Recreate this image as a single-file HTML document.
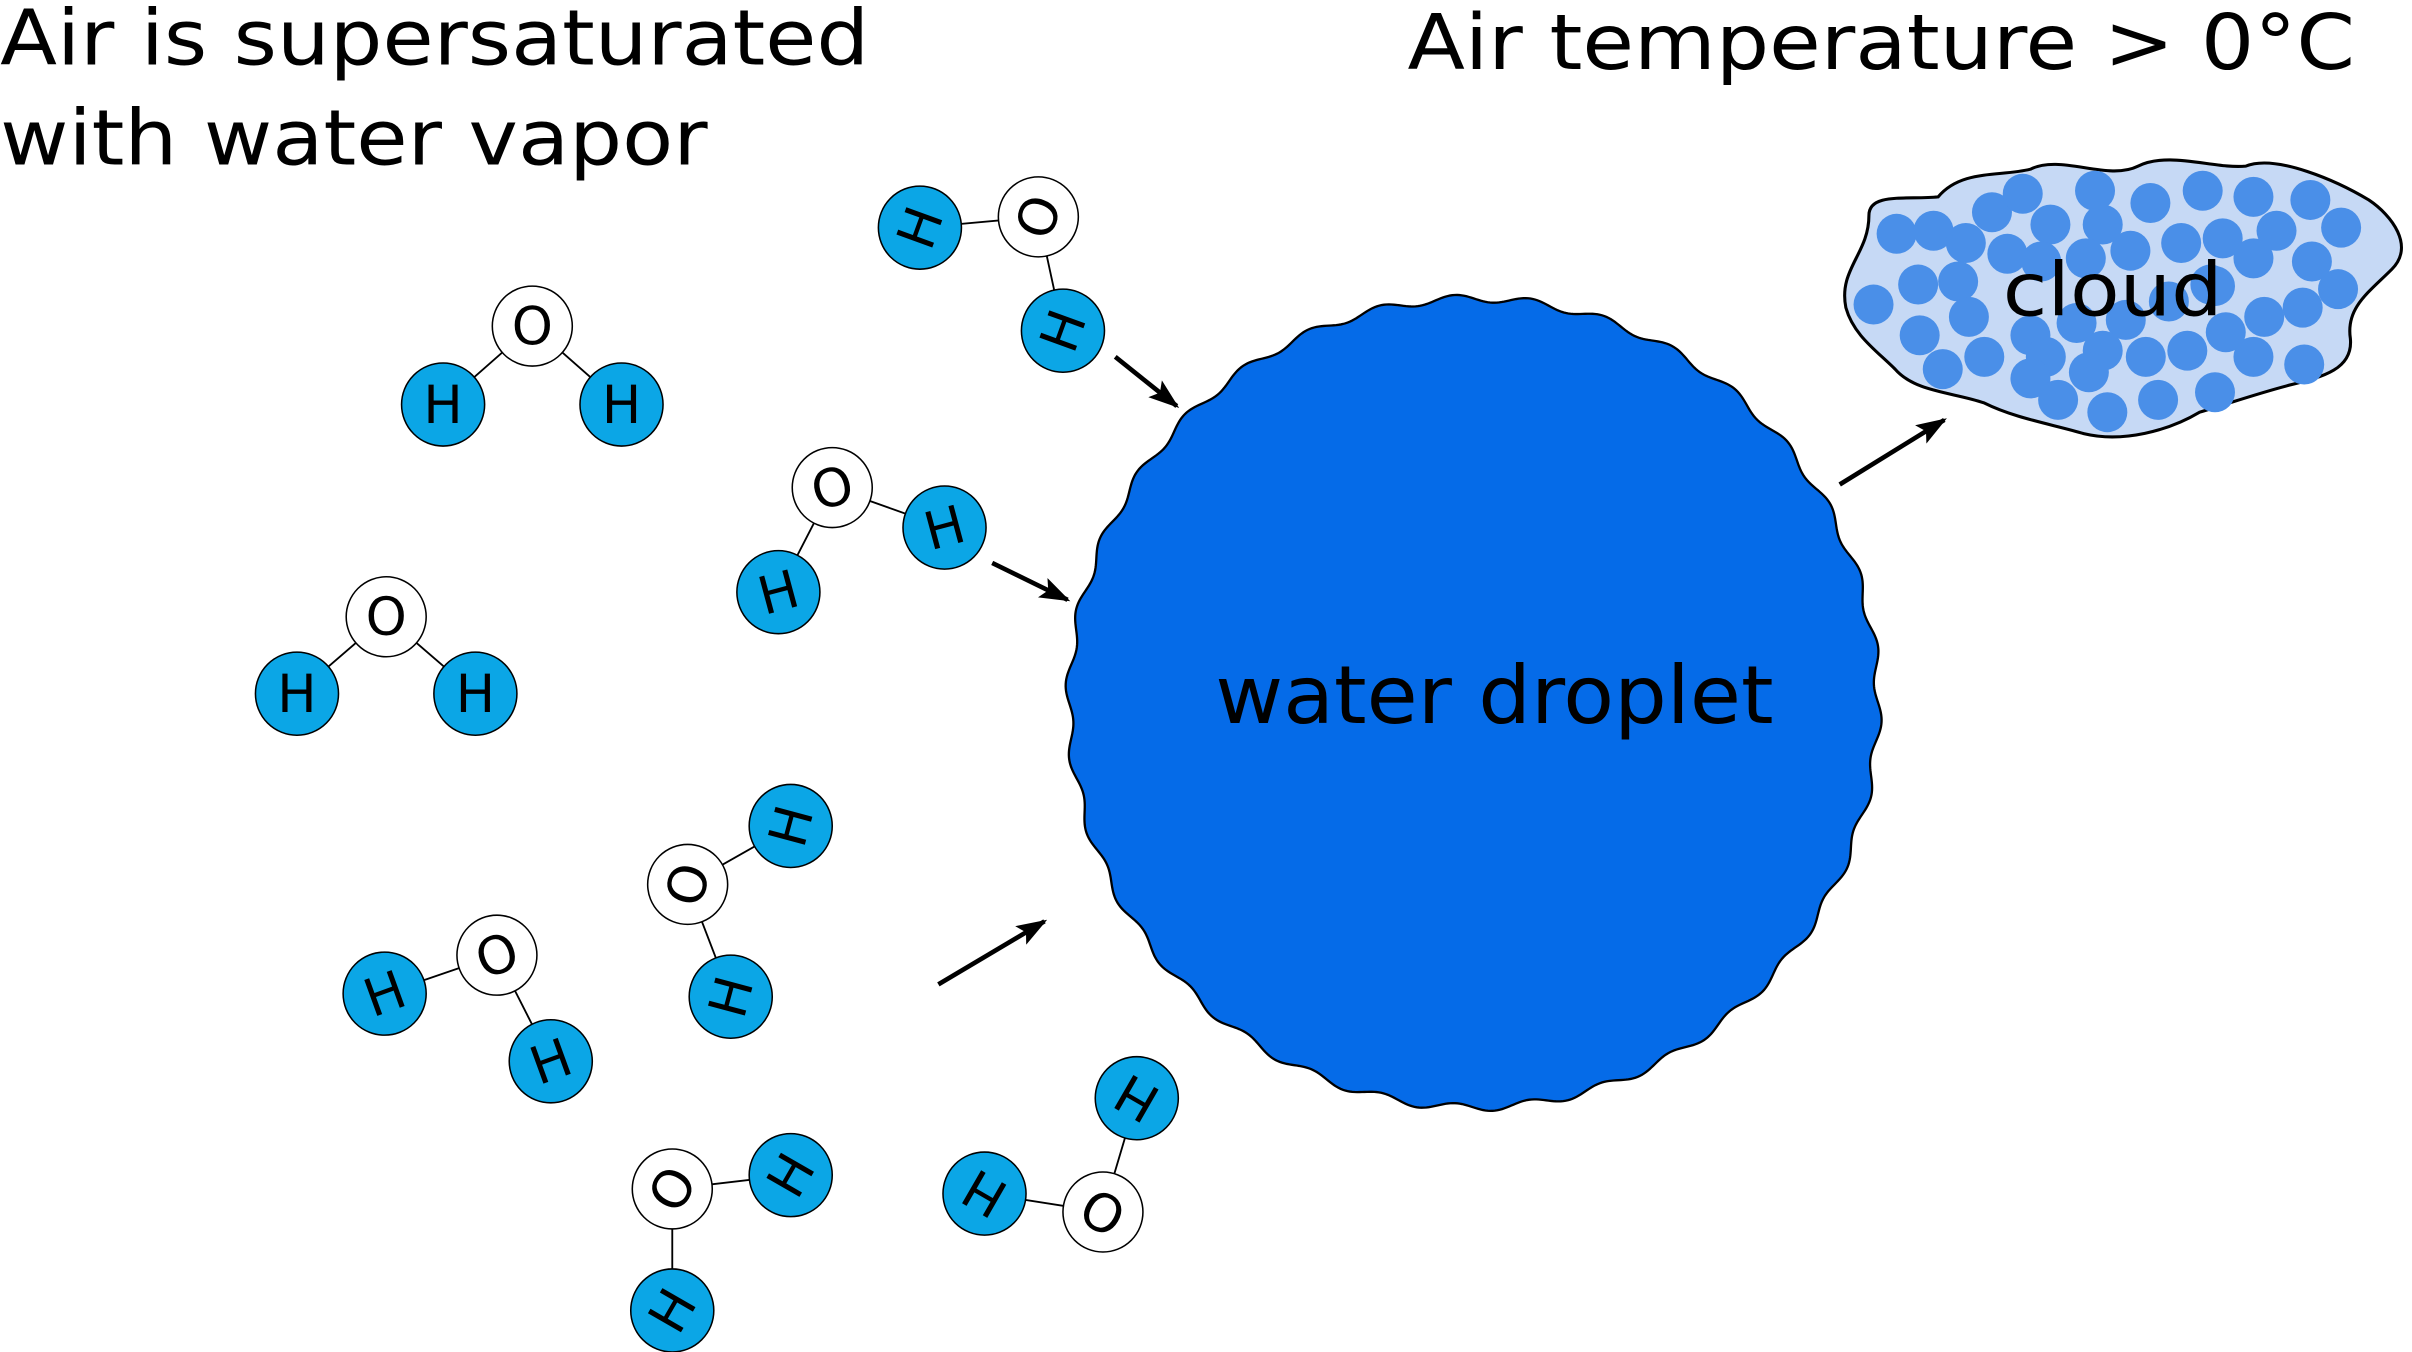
<!DOCTYPE html>
<html><head><meta charset="utf-8"><style>
html,body{margin:0;padding:0;background:#fff;width:2412px;height:1352px;overflow:hidden}
svg{display:block}
text{font-family:"DejaVu Sans","Liberation Sans",sans-serif}
</style></head><body>
<svg id="s" width="2412" height="1352" viewBox="0 0 1568 879" xmlns="http://www.w3.org/2000/svg">
<defs><marker id="ar" markerWidth="20" markerHeight="14" refX="18" refY="7" orient="auto" markerUnits="userSpaceOnUse"><path d="M0,0 L20,7 L0,14 L4,7z"/></marker></defs>
<text x="0" y="42" font-size="50" textLength="565" lengthAdjust="spacingAndGlyphs">Air is supersaturated</text>
<text x="0" y="107" font-size="50" textLength="460" lengthAdjust="spacingAndGlyphs">with water vapor</text>
<text x="915" y="45" font-size="50" textLength="616" lengthAdjust="spacingAndGlyphs">Air temperature &gt; 0°C</text>
<g id="cl">
<path d="M1200,200 C1195,175 1215,165 1215,140 C1215,125 1240,130 1260,128 C1275,110 1300,115 1320,110 C1340,100 1370,118 1390,108 C1410,98 1440,110 1460,108 C1480,100 1520,118 1540,130 C1555,140 1570,160 1555,175 C1540,190 1525,200 1528,220 C1530,240 1510,245 1490,250 C1470,255 1450,262 1430,268 C1410,280 1380,288 1355,282 C1335,276 1310,272 1290,262 C1270,255 1245,255 1232,240 C1220,228 1205,218 1200,200 Z" fill="#c6d9f5" stroke="#000" stroke-width="2"/>
</g>
<path id="drop" d="" fill="#056be8" stroke="#000" stroke-width="1.5"/>
<text x="790" y="470" font-size="52" textLength="363" lengthAdjust="spacingAndGlyphs">water droplet</text>
<text x="1302" y="205" font-size="48" textLength="143" lengthAdjust="spacingAndGlyphs">cloud</text>
<g stroke="#000" stroke-width="3" marker-end="url(#ar)">
<line x1="725" y1="232" x2="765" y2="264"/>
<line x1="645" y1="366" x2="694" y2="390"/>
<line x1="610" y1="640" x2="679" y2="599"/>
<line x1="1196" y1="315" x2="1264" y2="273"/>
</g>
<g id="mol"></g>
</svg>
<script>
var NS="http://www.w3.org/2000/svg";
function el(t,a,p,txt){var e=document.createElementNS(NS,t);for(var k in a)e.setAttribute(k,a[k]);if(txt)e.textContent=txt;p.appendChild(e);return e;}
var cx=958,cy=457,d="";
for(var i=0;i<=1080;i++){var t=i/1080*2*Math.PI;var r=263+2.5*Math.sin(34*t);d+=(i?"L":"M")+(cx+r*Math.cos(t)).toFixed(2)+","+(cy+r*Math.sin(t)).toFixed(2);}
document.getElementById("drop").setAttribute("d",d+"Z");
var cl=document.getElementById("cl");
var dots=[[1233,152],[1257,150],[1278,158],[1295,138],[1315,126],[1333,146],[1362,124],[1367,146],[1398,132],[1432,124],[1465,128],[1502,130],[1522,148],[1480,150],[1445,155],[1418,158],[1385,163],[1356,168],[1327,170],[1305,165],[1247,185],[1273,183],[1218,198],[1280,206],[1248,218],[1263,240],[1290,232],[1320,218],[1350,210],[1382,208],[1410,196],[1440,186],[1465,168],[1503,170],[1520,188],[1497,200],[1472,206],[1447,216],[1422,228],[1395,232],[1367,228],[1330,232],[1358,242],[1320,246],[1338,260],[1370,268],[1403,260],[1440,255],[1465,232],[1498,237],[1437,185]];
dots.forEach(function(p){el("circle",{cx:p[0],cy:p[1],r:13,fill:"#4a8fe8"},cl);});
var M=[[[675,141],[598,148],[691,215],-70],[[346,212],[288,263],[404,263],0],[[541,317],[614,343],[506,385],-15],[[251,401],[193,451],[309,451],0],[[447,575],[514,537],[475,648],-75],[[323,621],[250,646],[358,690],-20],[[437,773],[514,764],[437,852],-60],[[717,788],[739,714],[640,776],-150]];
var g=document.getElementById("mol");
M.forEach(function(m){var o=m[0],rot=m[3];
[m[1],m[2]].forEach(function(h){el("line",{x1:o[0],y1:o[1],x2:h[0],y2:h[1],stroke:"#000","stroke-width":1.2},g);});
el("circle",{cx:o[0],cy:o[1],r:26,fill:"#fff",stroke:"#000","stroke-width":1},g);
el("text",{x:o[0],y:o[1]+12,"font-size":34,"text-anchor":"middle",transform:"rotate("+rot+" "+o[0]+" "+o[1]+")"},g,"O");
[m[1],m[2]].forEach(function(h){el("circle",{cx:h[0],cy:h[1],r:27,fill:"#0ba6e6",stroke:"#000","stroke-width":1},g);
el("text",{x:h[0],y:h[1]+12,"font-size":34,"text-anchor":"middle",transform:"rotate("+rot+" "+h[0]+" "+h[1]+")"},g,"H");});
});
</script>
</body></html>
